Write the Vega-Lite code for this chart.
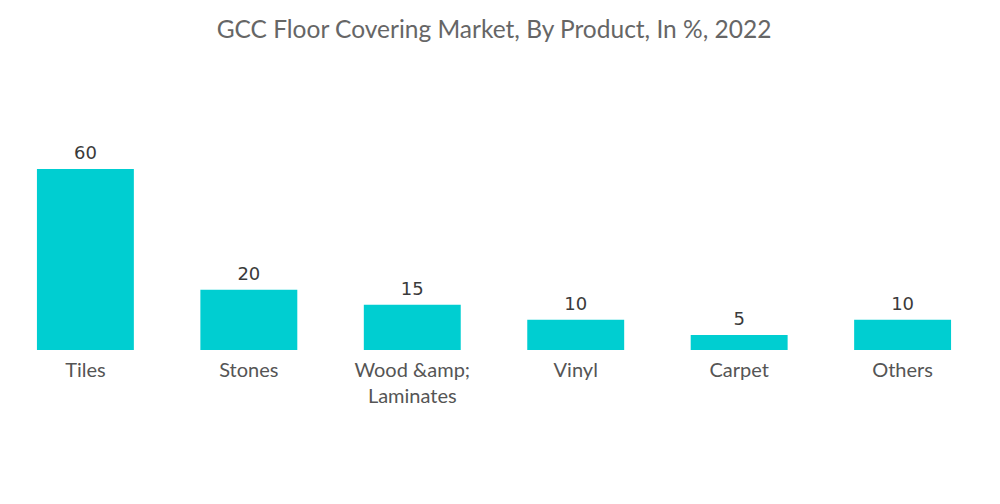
{
  "$schema": "https://vega.github.io/schema/vega-lite/v6.json",
  "autosize": "none",
  "width": 988,
  "height": 181,
  "padding": {"top": 169, "left": 0, "right": 12, "bottom": 154},
  "background": "white",
  "title": {
    "text": "GCC Floor Covering Market, By Product, In %, 2022",
    "font": "Lato",
    "fontSize": 24.5,
    "fontWeight": "normal",
    "color": "#666666",
    "anchor": "middle",
    "offset": 102
  },
  "data": {
    "values": [
      {"product": "Tiles", "share": 60},
      {"product": "Stones", "share": 20},
      {"product": "Wood &amp; Laminates", "share": 15},
      {"product": "Vinyl", "share": 10},
      {"product": "Carpet", "share": 5},
      {"product": "Others", "share": 10}
    ]
  },
  "encoding": {
    "x": {
      "field": "product",
      "type": "nominal",
      "sort": null,
      "scale": {"paddingInner": 0.407, "paddingOuter": 0.226},
      "axis": {
        "title": null,
        "domain": false,
        "ticks": false,
        "labelAngle": 0,
        "labelFont": "Lato",
        "labelFontSize": 20,
        "labelColor": "#555555",
        "labelPadding": 10,
        "labelLineHeight": 26,
        "labelExpr": "datum.label == 'Wood &amp; Laminates' ? ['Wood &amp;', 'Laminates'] : datum.label"
      }
    },
    "y": {
      "field": "share",
      "type": "quantitative",
      "scale": {"domain": [0, 60]},
      "axis": null
    }
  },
  "layer": [
    {"mark": {"type": "bar", "color": "#00ced1"}},
    {
      "mark": {"type": "text", "baseline": "bottom", "dy": -6, "font": "DejaVu Sans", "fontSize": 18, "color": "#3a3a3a"},
      "encoding": {"text": {"field": "share", "type": "quantitative"}}
    }
  ],
  "config": {"view": {"stroke": null}}
}
